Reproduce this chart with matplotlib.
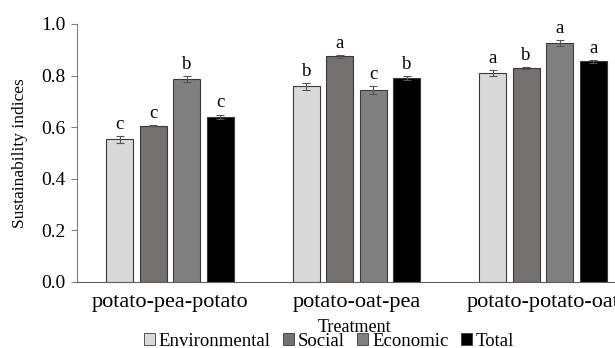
import matplotlib
matplotlib.use("Agg")
import matplotlib.pyplot as plt
import numpy as np
from matplotlib.patches import Patch

plt.rcParams['font.family'] = ['Liberation Serif', 'DejaVu Serif']

treatments = ["potato-pea-potato", "potato-oat-pea", "potato-potato-oat"]
series = ["Environmental", "Social", "Economic", "Total"]
environmental = [0.553, 0.758, 0.810]
social = [0.605, 0.875, 0.830]
economic = [0.787, 0.744, 0.925]
total = [0.640, 0.790, 0.855]
err_env = [0.013, 0.012, 0.011]
err_soc = [0.002, 0.006, 0.003]
err_eco = [0.011, 0.015, 0.012]
err_tot = [0.009, 0.007, 0.006]
let_env = ["c", "b", "a"]
let_soc = ["c", "a", "b"]
let_eco = ["b", "c", "a"]
let_tot = ["c", "b", "a"]

values = [environmental, social, economic, total]
errors = [err_env, err_soc, err_eco, err_tot]
letters = [let_env, let_soc, let_eco, let_tot]
colors = ["#d9d9d9", "#767171", "#808080", "#000000"]

fig = plt.figure(figsize=(6.15, 3.48), dpi=100)
ax = fig.add_axes([77/615, 1-282/348, (636-77)/615, (282-24)/348])

x = np.arange(len(treatments))
w = 0.145
step = 0.18
for i, (vals, errs, lets, c) in enumerate(zip(values, errors, letters, colors)):
    pos = x + (i - 1.5) * step
    ax.bar(pos, vals, width=w, color=c, edgecolor="#3a3a3a", linewidth=0.8, zorder=2)
    ax.errorbar(pos, vals, yerr=errs, fmt="none", ecolor="#555555", elinewidth=0.8,
                capsize=3, capthick=0.8, zorder=3)
    for p, v, e, l in zip(pos, vals, errs, lets):
        ax.text(p, v + e + 0.012, l, ha="center", va="bottom", fontsize=13.5)

ax.set_xlim(-0.5, 2.5)
ax.set_ylim(0, 1.0)
ax.set_yticks([0, 0.2, 0.4, 0.6, 0.8, 1.0])
ax.set_yticklabels(["0.0", "0.2", "0.4", "0.6", "0.8", "1.0"], fontsize=14)
ax.set_xticks(x)
ax.set_xticklabels(treatments, fontsize=16)
ax.tick_params(axis="x", length=0, pad=8)
ax.tick_params(axis="y", direction="out", length=4, color="#808080", pad=4)
for s in ["top", "right"]:
    ax.spines[s].set_visible(False)
ax.spines["left"].set_color("#808080")
ax.spines["bottom"].set_color("#606060")
ax.set_ylabel("Sustainability indices", fontsize=12.5)
ax.yaxis.set_label_coords(-0.087, 0.5)

fig.text(354/615, 1-327/348, "Treatment", ha="center", va="center", fontsize=13)
handles = [Patch(facecolor=c, edgecolor="#3a3a3a", linewidth=0.6) for c in colors]
fig.legend(handles, series, loc="center", bbox_to_anchor=(329/615, 1-341/348), ncol=4,
           frameon=False, fontsize=13.5, handlelength=0.6, handleheight=0.6,
           handletextpad=0.2, columnspacing=0.65, borderpad=0)

fig.savefig("out.png", dpi=100)
